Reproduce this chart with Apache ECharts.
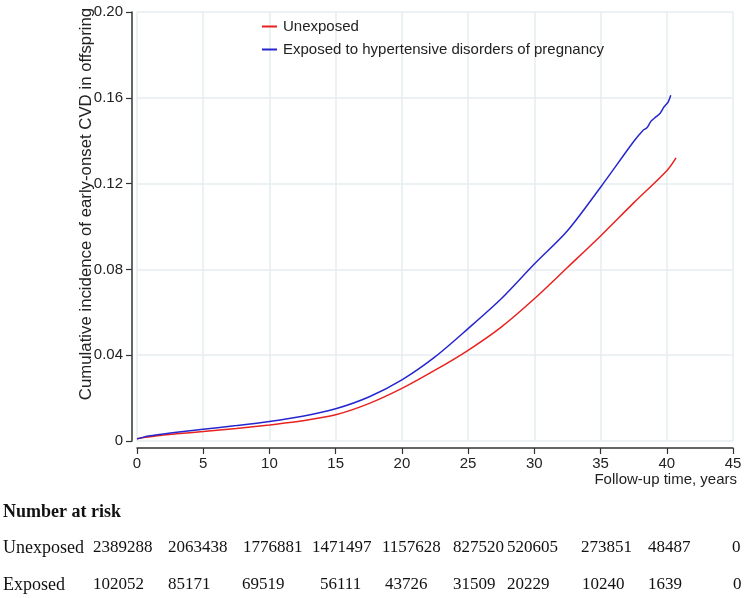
<!DOCTYPE html>
<html>
<head>
    <meta charset="utf-8">
    <title>Cumulative incidence of early-onset CVD</title>
    <script src="https://cdn.jsdelivr.net/npm/echarts@6/dist/echarts.min.js"></script>
    <style>html, body { margin: 0; padding: 0; background: #fff; }</style>
</head>
<body>
    <div id="main" style="width: 749px;height:598px;"></div>
    <script type="text/javascript">
        // curve values (years, cumulative incidence)
        var unexposedYears = [0, 0.5, 1, 2, 3, 5, 7.5, 10, 12.5, 15, 17.5, 20, 22.5, 25, 27.5, 30, 32.5, 35, 37.5, 40, 40.7];
        var unexposedInc = [0.001, 0.0016, 0.002, 0.0028, 0.0034, 0.0044, 0.0058, 0.0075, 0.0094, 0.0122, 0.0174, 0.0245, 0.033, 0.0423, 0.0531, 0.0663, 0.0809, 0.0956, 0.111, 0.126, 0.132];
        var exposedYears = [0, 0.5, 1, 2, 3, 5, 7.5, 10, 12.5, 15, 17.5, 20, 22.5, 25, 27.5, 30, 32.5, 35, 37.5, 38.2, 38.5, 38.8, 39.2, 39.5, 39.8, 40.1, 40.3];
        var exposedInc = [0.001, 0.0018, 0.0024, 0.0033, 0.0041, 0.0055, 0.0072, 0.0091, 0.0115, 0.015, 0.0205, 0.0285, 0.0392, 0.0524, 0.0663, 0.0825, 0.098, 0.1183, 0.1396, 0.1448, 0.146, 0.149, 0.1512, 0.1528, 0.1558, 0.158, 0.1612];

        // number at risk table
        var groups = ['Unexposed', 'Exposed'];
        var atRiskUnexposed = [2389288, 2063438, 1776881, 1471497, 1157628, 827520, 520605, 273851, 48487, 0];
        var atRiskExposed = [102052, 85171, 69519, 56111, 43726, 31509, 20229, 10240, 1639, 0];

        // layout of the table (pixels)
        var colXUnexposed = [93, 168, 243, 312, 382, 453, 507, 581, 648, 732];
        var colXExposed = [93, 168, 242, 320, 385, 453, 507, 582, 648, 733];
        var rowY = [548, 585];

        var myChart = echarts.init(document.getElementById('main'));

        function pairs(xs, ys) {
            var out = [];
            for (var i = 0; i < xs.length; i++) out.push([xs[i], ys[i]]);
            return out;
        }

        var tableFont = '17px "Liberation Serif"';
        var graphics = [{
            type: 'text', left: 3, top: 503,
            style: { text: 'Number at risk', font: 'bold 18px "Liberation Serif"', fill: '#111' }
        }];
        var rows = [atRiskUnexposed, atRiskExposed];
        var cols = [colXUnexposed, colXExposed];
        for (var r = 0; r < rows.length; r++) {
            graphics.push({
                type: 'text', x: 3, y: rowY[r],
                style: { text: groups[r], font: '18px "Liberation Serif"', fill: '#111', verticalAlign: 'middle' }
            });
            for (var c = 0; c < rows[r].length; c++) {
                graphics.push({
                    type: 'text', x: cols[r][c], y: rowY[r],
                    style: { text: String(rows[r][c]), font: tableFont, fill: '#111', verticalAlign: 'middle' }
                });
            }
        }

        var option = {
            animation: false,
            backgroundColor: '#fff',
            textStyle: { fontFamily: 'Liberation Sans' },
            grid: { left: 137, right: 16, top: 12, bottom: 157 },
            legend: {
                orient: 'vertical',
                left: 257, top: 14,
                itemWidth: 15, itemHeight: 2, itemGap: 8,
                icon: 'rect',
                textStyle: { fontSize: 15, color: '#222', padding: [0, 0, 0, 1] },
                data: ['Unexposed', 'Exposed to hypertensive disorders of pregnancy']
            },
            xAxis: {
                type: 'value',
                min: 0, max: 45, interval: 5,
                offset: 7,
                name: 'Follow-up time, years',
                nameLocation: 'end',
                nameGap: 4,
                nameTextStyle: { fontSize: 15, color: '#222', align: 'right', verticalAlign: 'top', padding: [24, 0, 0, 0] },
                axisLine: { onZero: false, lineStyle: { color: '#333', width: 1.5 } },
                axisTick: { length: 6, lineStyle: { color: '#333', width: 1.2 } },
                axisLabel: { fontSize: 15, color: '#222', margin: 8 },
                splitLine: { show: true, lineStyle: { color: '#e6edf0', width: 1.5 } }
            },
            yAxis: {
                type: 'value',
                min: 0, max: 0.2, interval: 0.04,
                offset: 5,
                name: 'Cumulative incidence of early-onset CVD in offspring',
                nameLocation: 'middle',
                nameGap: 37,
                nameMoveOverlap: false,
                nameTextStyle: { fontSize: 16.8, color: '#222', padding: [0, 0, 0, 45] },
                axisLine: { show: true, onZero: false, lineStyle: { color: '#333', width: 1.5 } },
                axisTick: { show: true, length: 6, lineStyle: { color: '#333', width: 1.2 } },
                axisLabel: {
                    fontSize: 15, color: '#222', margin: 9,
                    formatter: function (v) { return v === 0 ? '0' : v.toFixed(2); }
                },
                splitLine: { show: true, lineStyle: { color: '#e6edf0', width: 1.5 } }
            },
            series: [{
                name: 'Unexposed',
                type: 'line',
                showSymbol: false,
                smooth: 0.3,
                color: '#e8231f',
                lineStyle: { width: 1.5 },
                data: pairs(unexposedYears, unexposedInc)
            }, {
                name: 'Exposed to hypertensive disorders of pregnancy',
                type: 'line',
                showSymbol: false,
                smooth: 0.3,
                color: '#2626cf',
                lineStyle: { width: 1.5 },
                data: pairs(exposedYears, exposedInc)
            }],
            graphic: graphics
        };
        myChart.setOption(option);
    </script>
</body>
</html>
